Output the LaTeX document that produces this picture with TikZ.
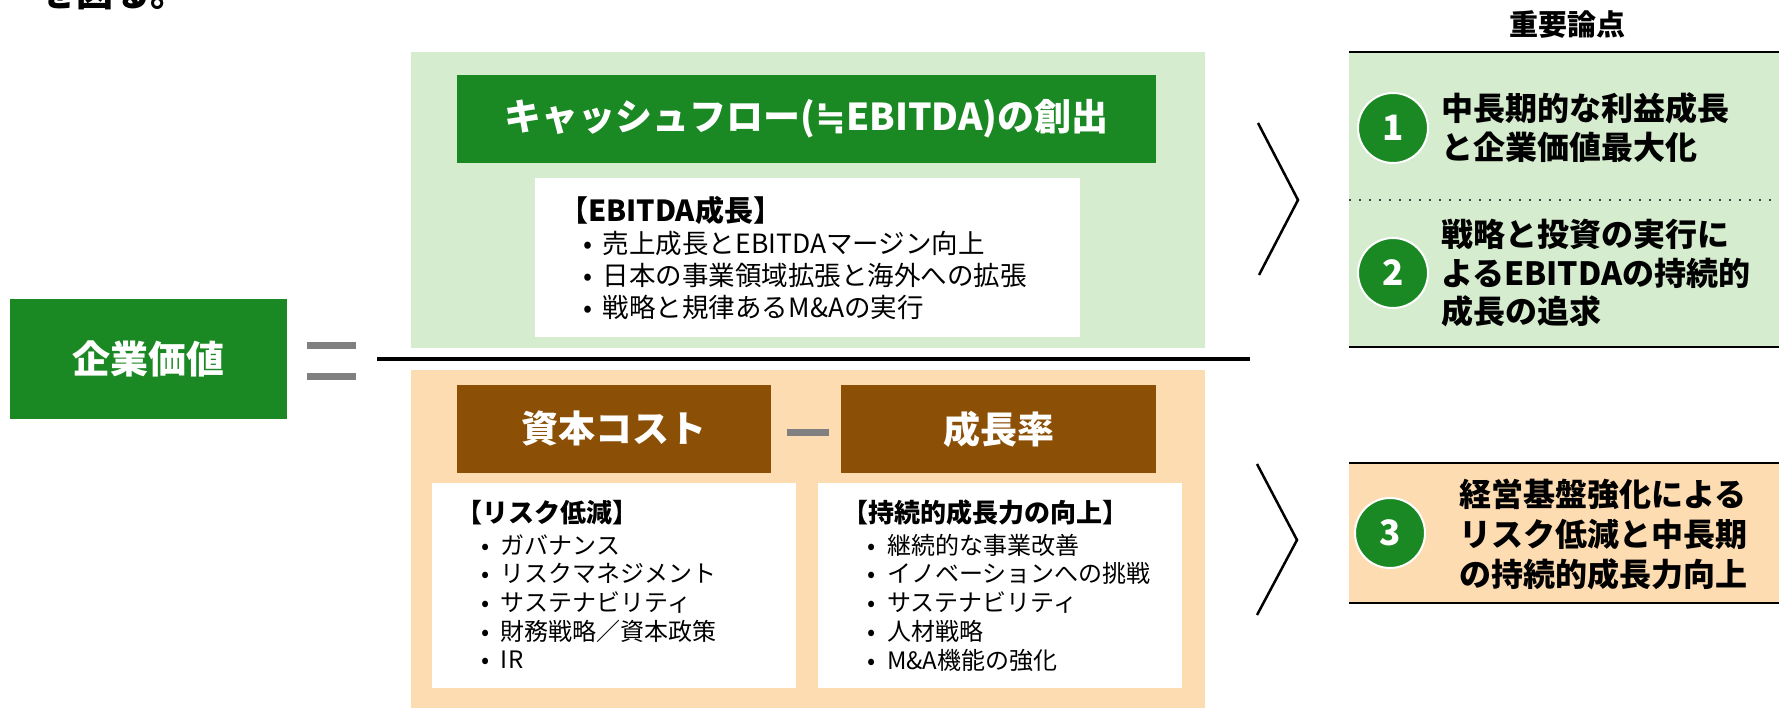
\documentclass[tikz,border=0pt]{standalone}
\usepackage{fontspec}
\setmainfont{Noto Sans CJK JP}
\newfontfamily\symfont{DejaVu Sans}
\definecolor{lgreen}{RGB}{213,236,206}
\definecolor{dgreen}{RGB}{26,137,35}
\definecolor{lorange}{RGB}{253,220,178}
\definecolor{kbrown}{RGB}{139,79,6}
\definecolor{mgray}{RGB}{128,128,128}
\newcommand{\mybul}{\makebox[20pt][l]{•}}
\begin{document}
\begin{tikzpicture}[x=1pt,y=-1pt,
  plain/.style={inner sep=0pt,outer sep=0pt,draw=none},
  hdrbox/.style={plain,text=white,font=\bfseries\fontsize{37}{37}\selectfont},
  bighead/.style={plain,anchor=west,font=\bfseries\fontsize{29}{29}\selectfont},
  bigitem/.style={plain,anchor=west,font=\fontsize{26.5}{26.5}\selectfont},
  smhead/.style={plain,anchor=west,font=\bfseries\fontsize{26}{26}\selectfont},
  smitem/.style={plain,anchor=west,font=\fontsize{24}{24}\selectfont},
  numc/.style={circle,fill=dgreen,draw=white,line width=2pt,minimum size=70pt,inner sep=0pt,text=white,font=\bfseries\fontsize{35}{35}\selectfont},
  keytext/.style={plain,font=\bfseries\fontsize{32}{39}\selectfont},
  rule/.style={line width=2pt,black},
  chev/.style={line width=2.5pt,black,line join=miter},
  bar/.style={mgray,line width=7pt}]
\useasboundingbox (0,0) rectangle (1779,708);
\clip (0,0) rectangle (1779,708);

% cut-off lead text
\node[plain,anchor=base west,font=\bfseries\fontsize{37}{37}\selectfont] (lead) at (39,7) {を図る。};

% enterprise value
\node[hdrbox,fill=dgreen,minimum width=277pt,minimum height=120pt,font=\bfseries\fontsize{38}{38}\selectfont] (ev) at (148.5,359) {企業価値};
\coordinate (eqL) at (307,345);
\coordinate (eqR) at (356,345);
\coordinate (eqL2) at (307,376);
\coordinate (eqR2) at (356,376);
\draw[bar] (eqL) -- (eqR);
\draw[bar] (eqL2) -- (eqR2);

% top panel
\node[plain,fill=lgreen,minimum width=794pt,minimum height=296pt] (tp) at (808,200) {};
\node[hdrbox,fill=dgreen,minimum width=699pt,minimum height=88pt] (cf) at (806.5,119) {キャッシュフロー({\symfont\bfseries ≒}EBITDA)の創出};
\node[plain,fill=white,minimum width=545pt,minimum height=159pt] (wt) at (807.5,257.5) {};
\node[bighead] (th) at (559,210) {【EBITDA成長】};
\node[bigitem] (t1) at (583,243) {\mybul 売上成長とEBITDAマージン向上};
\node[bigitem] (t2) at (583,275) {\mybul 日本の事業領域拡張と海外への拡張};
\node[bigitem] (t3) at (583,307) {\mybul 戦略と規律あるM\&Aの実行};

% divider
\coordinate (dvL) at (377,359);
\coordinate (dvR) at (1250,359);
\draw[line width=4pt,black] (dvL) -- (dvR);

% bottom panel
\node[plain,fill=lorange,minimum width=794pt,minimum height=350pt,anchor=north] (bp) at (808,370) {};
\node[hdrbox,fill=kbrown,minimum width=314pt,minimum height=88pt] (cc) at (614,429) {資本コスト};
\node[hdrbox,fill=kbrown,minimum width=315pt,minimum height=88pt] (gr) at (998.5,429) {成長率};
\draw[bar] (cc.east |- 0,432) ++(16,0) coordinate (mnL) -- ([xshift=-12pt]gr.west |- 0,432) coordinate (mnR);

\node[plain,fill=white,minimum width=364pt,minimum height=205pt] (wl) at (614,585.5) {};
\node[plain,fill=white,minimum width=364pt,minimum height=205pt] (wr) at (1000,585.5) {};

\node[smhead] (lh) at (456,513) {【リスク低減】};
\node[smitem] (l1) at (481,545) {\mybul ガバナンス};
\node[smitem] (l2) at (481,573.75) {\mybul リスクマネジメント};
\node[smitem] (l3) at (481,602.5) {\mybul サステナビリティ};
\node[smitem] (l4) at (481,631.25) {\mybul 財務戦略／資本政策};
\node[smitem] (l5) at (481,660) {\mybul IR};

\node[smhead] (rh) at (842,513) {【持続的成長力の向上】};
\node[smitem] (r1) at (867,545) {\mybul 継続的な事業改善};
\node[smitem] (r2) at (867,573.75) {\mybul イノベーションへの挑戦};
\node[smitem] (r3) at (867,602.5) {\mybul サステナビリティ};
\node[smitem] (r4) at (867,631.25) {\mybul 人材戦略};
\node[smitem] (r5) at (867,660) {\mybul M\&A機能の強化};

% chevrons
\coordinate (c1a) at (1258,123);
\coordinate (c1b) at (1298,200);
\coordinate (c1c) at (1259,275);
\draw[chev] (c1a) -- (c1b) -- (c1c);
\coordinate (c2a) at (1257,464);
\coordinate (c2b) at (1297,540);
\coordinate (c2c) at (1257,615);
\draw[chev] (c2a) -- (c2b) -- (c2c);

% key points
\node[plain,font=\bfseries\fontsize{29}{29}\selectfont] (kh) at (1567,25) {重要論点};
\node[plain,fill=lgreen,anchor=north west,minimum width=432pt,minimum height=295pt] (kp) at (1349,52) {};
\draw[rule] (kp.north west) -- (kp.north east);
\draw[rule] (kp.south west) -- (kp.south east);
\draw[line width=2pt,black!75,dash pattern=on 2pt off 8pt] (kp.west |- 0,200) -- (kp.east |- 0,200);
\node[numc] (n1) at (1393,128) {1};
\node[keytext,anchor=west,align=left] (k1) at (1441,127.5) {中長期的な利益成長\\と企業価値最大化};
\node[numc] (n2) at (1393,273) {2};
\node[keytext,anchor=west,align=left,font=\bfseries\fontsize{32}{38.5}\selectfont] (k2) at (1441,273.5) {戦略と投資の実行に\\よるEBITDAの持続的\\成長の追求};

\node[plain,fill=lorange,anchor=north west,minimum width=432pt,minimum height=140pt] (kq) at (1349,463) {};
\draw[rule] (kq.north west) -- (kq.north east);
\draw[rule] (kq.south west) -- (kq.south east);
\node[numc] (n3) at (1390,533) {3};
\node[keytext,align=center,font=\bfseries\fontsize{32}{40}\selectfont] (k3) at (1603,534) {経営基盤強化による\\リスク低減と中長期\\の持続的成長力向上};
\end{tikzpicture}
\end{document}
